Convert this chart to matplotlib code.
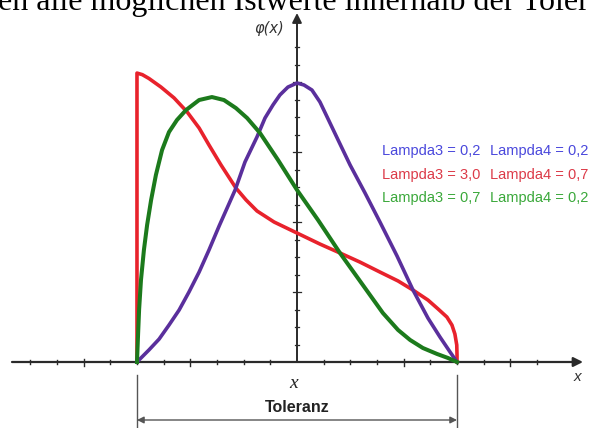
import matplotlib
matplotlib.use("Agg")
import matplotlib.pyplot as plt

# ---- data (x in tick units, tolerance from -6 to 6; y in small-tick units) ----
purple_x = [-6.0, -5.55, -5.17, -4.8, -4.42, -4.05, -3.67, -3.3, -2.92, -2.62, -2.32, -1.95,
            -1.5, -1.2, -0.9, -0.64, -0.34, 0.0, 0.26, 0.56, 0.86, 1.13, 1.54, 1.99, 2.55,
            3.11, 3.75, 4.35, 4.91, 5.36, 5.74, 6.0]
purple_y = [0.0, 0.69, 1.31, 2.11, 2.97, 4.0, 5.14, 6.4, 7.77, 8.8, 9.83, 11.43,
            12.86, 13.94, 14.69, 15.26, 15.71, 15.94, 15.83, 15.54, 14.86, 14.0, 12.69, 11.26, 9.66,
            8.0, 6.06, 4.11, 2.51, 1.43, 0.57, 0.0]

red_x = [-6.0, -6.0, -5.8, -5.55, -5.1, -4.61, -4.12, -3.67, -3.3, -2.85, -2.29, -1.91, -1.5, -0.86,
         0.0, 0.86, 1.61, 2.36, 3.11, 3.79, 4.35, 4.91, 5.29, 5.62, 5.81, 5.92, 5.99, 6.0, 6.0]
red_y = [0.0, 16.51, 16.42, 16.2, 15.71, 15.09, 14.29, 13.37, 12.4, 11.26, 9.94, 9.26, 8.63, 8.0,
         7.37, 6.74, 6.23, 5.71, 5.14, 4.63, 4.11, 3.54, 3.03, 2.57, 2.11, 1.6, 0.97, 0.4, 0.0]

green_x = [-6.0, -5.96, -5.92, -5.85, -5.74, -5.62, -5.47, -5.29, -5.06, -4.8, -4.5, -4.16,
           -3.67, -3.19, -2.74, -2.29, -1.87, -1.39, -0.71, 0.0, 0.79, 1.61, 2.44, 3.22, 3.79,
           4.24, 4.72, 5.25, 5.66, 6.0]
green_y = [0.0, 1.54, 3.0, 4.69, 6.4, 7.83, 9.26, 10.69, 12.11, 13.14, 13.83, 14.4,
           14.97, 15.14, 14.97, 14.51, 13.94, 13.09, 11.54, 9.83, 8.11, 6.23, 4.46, 2.8, 1.83,
           1.26, 0.8, 0.46, 0.23, 0.0]

legend_lambda3 = ["Lampda3 = 0,2", "Lampda3 = 3,0", "Lampda3 = 0,7"]
legend_lambda4 = ["Lampda4 = 0,2", "Lampda4 = 0,7", "Lampda4 = 0,2"]
legend_colors = ["#4a48dc", "#dc3a48", "#3aa83a"]

x_ticks = list(range(-10, 10))
y_ticks = list(range(1, 19))
tol_low, tol_high = -6.0, 6.0

# ---- figure ----
fig = plt.figure(figsize=(5.9, 4.28), dpi=100)
ax = fig.add_axes([0, 0, 1, 1])
sx = 26.67  # px per x unit
sy = 17.5   # px per y unit
ax.set_xlim(-297 / sx, 293 / sx)
ax.set_ylim(-66 / sy, 362 / sy)
ax.axis("off")

axis_col = "#2a2a2a"

# x axis with arrow
ax.annotate("", xy=(286 / sx, 0), xytext=(-285 / sx, 0),
            arrowprops=dict(arrowstyle="-|>", color=axis_col, lw=1.6,
                            mutation_scale=14, shrinkA=0, shrinkB=0))
# y axis with arrow
ax.annotate("", xy=(0, 349 / sy), xytext=(0, 0),
            arrowprops=dict(arrowstyle="-|>", color=axis_col, lw=1.4,
                            mutation_scale=14, shrinkA=0, shrinkB=0))

# ticks
for t in x_ticks:
    if t == 0:
        continue
    h = 3.5 if t % 4 == 0 else 2.0
    ax.plot([t, t], [-h / sy, h / sy], color=axis_col, lw=1.0)
for t in y_ticks:
    w = 4.0 if t % 4 == 0 else 2.2
    ax.plot([-w / sx, w / sx], [t, t], color=axis_col, lw=0.9)

# curves
lw = 2.6
ax.plot(red_x, red_y, color="#e8222c", lw=lw, solid_joinstyle="round", zorder=3)
ax.plot(purple_x, purple_y, color="#5a2f9c", lw=lw, solid_joinstyle="round", zorder=4)
ax.plot(green_x, green_y, color="#1c7a1c", lw=lw + 0.3, solid_joinstyle="round", zorder=5)

# tolerance dimension lines
dim_col = "#555555"
for xv in (tol_low, tol_high):
    ax.plot([xv, xv], [-13 / sy, -70 / sy], color=dim_col, lw=1.0)
ax.annotate("", xy=(tol_high, -58 / sy), xytext=(tol_low, -58 / sy),
            arrowprops=dict(arrowstyle="<|-|>", color=dim_col, lw=1.0,
                            mutation_scale=10, shrinkA=0, shrinkB=0))
ax.text(0, -45 / sy, "Toleranz", ha="center", va="center", fontsize=11.5,
        fontweight="bold", family="Liberation Sans", color="#222222")
ax.text(-3 / sx, -22 / sy, "x", ha="center", va="center", fontsize=14,
        style="italic", family="Liberation Serif", color="#222222")
ax.text(280 / sx, -15 / sy, "x", ha="center", va="center", fontsize=11,
        style="italic", family="Liberation Sans", color="#333333")
ax.text(-28 / sx, 334 / sy, "φ(x)", ha="center", va="center", fontsize=10.5,
        style="italic", family="DejaVu Sans", color="#333333")

# legend texts
for i in range(3):
    yv = (362 - 151 - 23.5 * i) / sy
    ax.text(85 / sx, yv, legend_lambda3[i], ha="left", va="center",
            fontsize=10.5, family="Liberation Sans", color=legend_colors[i])
    ax.text(193 / sx, yv, legend_lambda4[i], ha="left", va="center",
            fontsize=10.5, family="Liberation Sans", color=legend_colors[i])

# cropped heading line at the top
fig.text(-0.004, 1 - 10 / 428, "en alle möglichen Istwerte innerhalb der Toler",
         ha="left", va="baseline", fontsize=23, family="Liberation Serif", color="black")

fig.savefig("out.png", dpi=100)
